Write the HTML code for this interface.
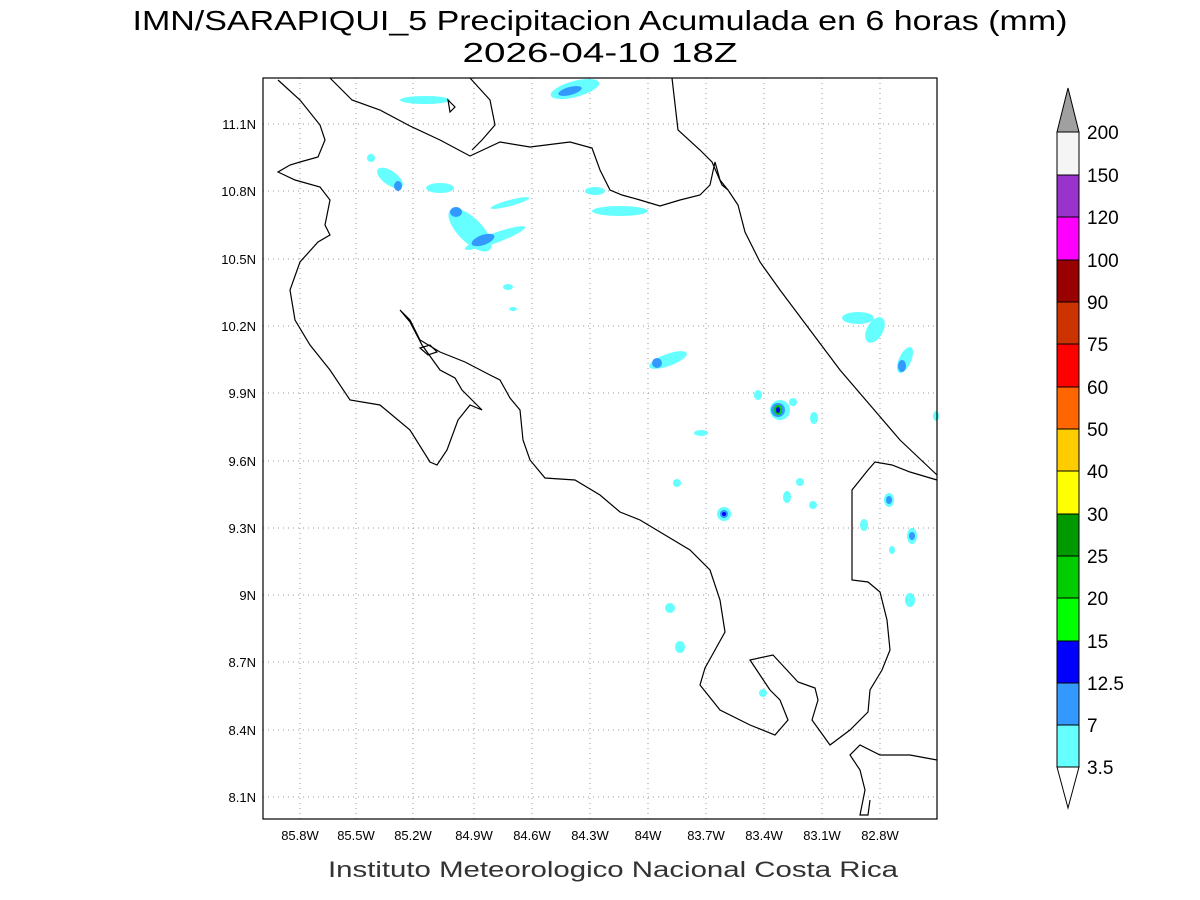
<!DOCTYPE html>
<html><head><meta charset="utf-8"><style>
html,body{margin:0;padding:0;background:#fff;}
svg{display:block;font-family:"Liberation Sans",sans-serif;}
</style></head><body>
<svg width="1200" height="900" viewBox="0 0 1200 900" xmlns="http://www.w3.org/2000/svg">
<rect width="1200" height="900" fill="#fff"/>
<text x="600" y="30" font-size="28" text-anchor="middle" fill="#000" textLength="935" lengthAdjust="spacingAndGlyphs">IMN/SARAPIQUI_5 Precipitacion Acumulada en 6 horas (mm)</text>
<text x="600" y="62" font-size="28" text-anchor="middle" fill="#000" textLength="275" lengthAdjust="spacingAndGlyphs">2026-04-10 18Z</text>
<text x="613" y="877" font-size="22" text-anchor="middle" fill="#333" textLength="570" lengthAdjust="spacingAndGlyphs">Instituto Meteorologico Nacional Costa Rica</text>
<!-- grid -->
<g stroke="#999" stroke-width="1" stroke-dasharray="1,4">
<line x1="300" y1="78" x2="300" y2="819"/><line x1="356" y1="78" x2="356" y2="819"/><line x1="413" y1="78" x2="413" y2="819"/><line x1="474" y1="78" x2="474" y2="819"/><line x1="532" y1="78" x2="532" y2="819"/><line x1="590" y1="78" x2="590" y2="819"/><line x1="648" y1="78" x2="648" y2="819"/><line x1="706" y1="78" x2="706" y2="819"/><line x1="764" y1="78" x2="764" y2="819"/><line x1="822" y1="78" x2="822" y2="819"/><line x1="880" y1="78" x2="880" y2="819"/>
<line x1="263" y1="124" x2="937" y2="124"/><line x1="263" y1="191" x2="937" y2="191"/><line x1="263" y1="259" x2="937" y2="259"/><line x1="263" y1="326" x2="937" y2="326"/><line x1="263" y1="393" x2="937" y2="393"/><line x1="263" y1="461" x2="937" y2="461"/><line x1="263" y1="528" x2="937" y2="528"/><line x1="263" y1="595" x2="937" y2="595"/><line x1="263" y1="662" x2="937" y2="662"/><line x1="263" y1="730" x2="937" y2="730"/><line x1="263" y1="797" x2="937" y2="797"/>
</g>
<!-- precip -->
<g fill="#66ffff">
<ellipse cx="425" cy="100" rx="25" ry="4"/><ellipse cx="575" cy="89" rx="25" ry="8" transform="rotate(-15 575 89)"/>
<ellipse cx="390" cy="178" rx="15" ry="7" transform="rotate(35 390 178)"/><ellipse cx="371" cy="158" rx="4" ry="4"/>
<ellipse cx="440" cy="188" rx="14" ry="5"/><ellipse cx="470" cy="230" rx="28" ry="12" transform="rotate(45 470 230)"/>
<ellipse cx="495" cy="238" rx="32" ry="5" transform="rotate(-20 495 238)"/><ellipse cx="510" cy="203" rx="20" ry="3" transform="rotate(-15 510 203)"/>
<ellipse cx="595" cy="191" rx="10" ry="4"/><ellipse cx="620" cy="211" rx="28" ry="5"/><ellipse cx="508" cy="287" rx="5" ry="3"/><ellipse cx="513" cy="309" rx="4" ry="2"/>
<ellipse cx="668" cy="360" rx="20" ry="6" transform="rotate(-20 668 360)"/><ellipse cx="780" cy="410" rx="10" ry="10"/><ellipse cx="758" cy="395" rx="4" ry="5"/><ellipse cx="793" cy="402" rx="4" ry="4"/>
<ellipse cx="814" cy="418" rx="4" ry="6"/><ellipse cx="701" cy="433" rx="7" ry="3"/><ellipse cx="677" cy="483" rx="4" ry="4"/><ellipse cx="724" cy="514" rx="7" ry="7"/>
<ellipse cx="787" cy="497" rx="4" ry="6"/><ellipse cx="800" cy="482" rx="4" ry="4"/><ellipse cx="813" cy="505" rx="4" ry="4"/>
<ellipse cx="858" cy="318" rx="16" ry="6"/><ellipse cx="875" cy="330" rx="8" ry="14" transform="rotate(30 875 330)"/><ellipse cx="905" cy="360" rx="6" ry="14" transform="rotate(25 905 360)"/>
<ellipse cx="889" cy="500" rx="5" ry="7"/><ellipse cx="864" cy="525" rx="4" ry="6"/><ellipse cx="912" cy="536" rx="5" ry="8"/><ellipse cx="892" cy="550" rx="3" ry="4"/><ellipse cx="910" cy="600" rx="5" ry="7"/>
<ellipse cx="670" cy="608" rx="5" ry="5"/><ellipse cx="680" cy="647" rx="5" ry="6"/><ellipse cx="763" cy="693" rx="4" ry="4"/><ellipse cx="936" cy="416" rx="3" ry="5"/>
</g>
<g fill="#3399ff">
<ellipse cx="570" cy="91" rx="12" ry="4" transform="rotate(-15 570 91)"/><ellipse cx="398" cy="186" rx="4" ry="5"/><ellipse cx="456" cy="212" rx="6" ry="5"/><ellipse cx="483" cy="240" rx="12" ry="5" transform="rotate(-20 483 240)"/>
<ellipse cx="657" cy="363" rx="5" ry="5"/><ellipse cx="778" cy="410" rx="7" ry="7"/><ellipse cx="724" cy="514" rx="4" ry="4"/><ellipse cx="902" cy="366" rx="4" ry="6"/><ellipse cx="889" cy="500" rx="3" ry="4"/><ellipse cx="912" cy="536" rx="3" ry="4"/>
</g>
<ellipse cx="778" cy="410" rx="4" ry="5" fill="#00cc00"/><ellipse cx="778" cy="410" rx="2" ry="3" fill="#0000ff"/><ellipse cx="724" cy="514" rx="2" ry="2" fill="#0000ff"/>
<!-- coast -->
<g fill="none" stroke="#000" stroke-width="1.2">
<polyline points="278,80 300,100 320,125 325,140 318,157 300,162 290,165 278,172 295,180 320,187 330,200 325,225 330,235 318,242 300,262 290,290 295,320 310,345 330,370 350,400 380,405 410,430 430,462 437,465 447,450 458,420 470,405 482,410 462,390 455,378 440,370 422,345 410,322 400,310 410,320 420,340 440,352 465,362 490,375 500,380 510,398 520,410 523,440 530,460 545,478 575,480 600,495 620,512 640,520 660,532 690,550 710,570 720,600 725,632 715,650 705,668 700,685 720,710 750,725 775,735 788,720 780,700 770,690 760,675 750,660 773,655 798,682 815,688 818,700 812,720 830,745 850,730 868,712 870,690 882,670 890,650 887,620 880,592 868,582 852,580 852,490 868,470 875,462 892,465 910,472 937,480"/>
<polyline points="937,475 900,440 870,405 840,370 810,330 780,290 760,262 745,232 738,205 728,190 720,180 715,162 710,185 700,195 680,200 660,206 640,200 622,195 610,190 600,170 592,148 570,142 530,147 500,142 470,156 440,140 410,126 380,110 352,100 330,78"/>
<polyline points="470,78 490,100 495,125 482,140 472,150"/>
<polyline points="672,78 678,130 700,150 712,162 722,185 728,190"/>
<polygon points="420,348 430,345 437,352 428,355"/>
<polygon points="448,100 455,107 450,112"/>
<polyline points="937,760 910,755 880,755 860,745 850,755 860,770 865,790 860,815 868,815 870,800"/>
</g>
<rect x="263" y="78" width="674" height="741" fill="none" stroke="#000" stroke-width="1.2"/>
<!-- ticks -->
<g font-size="13" fill="#000">
<g text-anchor="end"><text x="256" y="129">11.1N</text><text x="256" y="196">10.8N</text><text x="256" y="264">10.5N</text><text x="256" y="331">10.2N</text><text x="256" y="398">9.9N</text><text x="256" y="466">9.6N</text><text x="256" y="533">9.3N</text><text x="256" y="600">9N</text><text x="256" y="667">8.7N</text><text x="256" y="735">8.4N</text><text x="256" y="802">8.1N</text></g>
<g text-anchor="middle"><text x="300" y="840">85.8W</text><text x="356" y="840">85.5W</text><text x="413" y="840">85.2W</text><text x="474" y="840">84.9W</text><text x="532" y="840">84.6W</text><text x="590" y="840">84.3W</text><text x="648" y="840">84W</text><text x="706" y="840">83.7W</text><text x="764" y="840">83.4W</text><text x="822" y="840">83.1W</text><text x="880" y="840">82.8W</text></g>
</g>
<!-- colorbar -->
<g stroke="#000" stroke-width="1">
<polygon points="1057,132 1079,132 1068,88" fill="#a0a0a0"/>
<rect x="1057" y="132" width="22" height="43" fill="#f5f5f5"/>
<rect x="1057" y="175" width="22" height="42" fill="#9933cc"/>
<rect x="1057" y="217" width="22" height="43" fill="#ff00ff"/>
<rect x="1057" y="260" width="22" height="42" fill="#990000"/>
<rect x="1057" y="302" width="22" height="42" fill="#cc3300"/>
<rect x="1057" y="344" width="22" height="43" fill="#ff0000"/>
<rect x="1057" y="387" width="22" height="42" fill="#ff6600"/>
<rect x="1057" y="429" width="22" height="42" fill="#ffcc00"/>
<rect x="1057" y="471" width="22" height="43" fill="#ffff00"/>
<rect x="1057" y="514" width="22" height="42" fill="#009900"/>
<rect x="1057" y="556" width="22" height="42" fill="#00cc00"/>
<rect x="1057" y="598" width="22" height="43" fill="#00ff00"/>
<rect x="1057" y="641" width="22" height="42" fill="#0000ff"/>
<rect x="1057" y="683" width="22" height="42" fill="#3399ff"/>
<rect x="1057" y="725" width="22" height="42" fill="#66ffff"/>
<polygon points="1057,767 1079,767 1068,808" fill="#fff"/>
</g>
<g font-size="19" fill="#000">
<text x="1087" y="139">200</text><text x="1087" y="182">150</text><text x="1087" y="224">120</text><text x="1087" y="267">100</text><text x="1087" y="309">90</text><text x="1087" y="351">75</text><text x="1087" y="394">60</text><text x="1087" y="436">50</text><text x="1087" y="478">40</text><text x="1087" y="521">30</text><text x="1087" y="563">25</text><text x="1087" y="605">20</text><text x="1087" y="648">15</text><text x="1087" y="690">12.5</text><text x="1087" y="732">7</text><text x="1087" y="774">3.5</text>
</g>
</svg>
</body></html>
